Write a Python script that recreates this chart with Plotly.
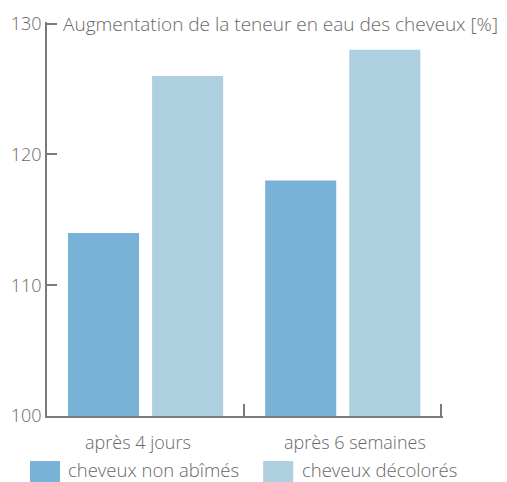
import plotly.graph_objects as go

categories = ["après 4 jours", "après 6 semaines"]
series_names = ["cheveux non abîmés", "cheveux décolorés"]
values_non_abimes = [114, 118]
values_decolores = [126, 128]
y_ticks = [100, 110, 120, 130]
title_text = "Augmentation de la teneur en eau des cheveux [%]"

colors = ["#78b2d6", "#aecfdf"]
text_color = "#686868"
axis_color = "#7a7a7a"
font_family = "Open Sans, Noto Sans, sans-serif"

# page body has an 8px margin; work in window pixels and shift
OFF = 8
L, R, T, B = 47, 441, 24, 416          # where 100/130 and category edges fall
W, H = 507 - OFF, 482 - OFF
Y_MIN, Y_MAX = 100, 130
Y_EXT = 0.125                          # small headroom so the inside end tick is kept
X_EXT = 0.0085
ppu_y = (B - T) / (Y_MAX - Y_MIN)
ppu_x = (R - L) / 2.0
T_eff = T - Y_EXT * ppu_y
R_eff = R + X_EXT * ppu_x
PW, PH = R_eff - L, B - T_eff

fig = go.Figure()
fig.add_trace(go.Bar(x=categories, y=values_non_abimes, name=series_names[0],
                     marker=dict(color=colors[0], line=dict(width=0))))
fig.add_trace(go.Bar(x=categories, y=values_decolores, name=series_names[1],
                     marker=dict(color=colors[1], line=dict(width=0))))

fig.update_layout(
    width=W, height=H,
    margin=dict(l=L - OFF, r=W - (R_eff - OFF), t=T_eff - OFF, b=H - (B - OFF), autoexpand=False),
    paper_bgcolor="white", plot_bgcolor="white",
    barmode="group", bargap=0.147, bargroupgap=0.155,
    showlegend=False,
    font=dict(family=font_family, size=18, color=text_color, weight=300),
)
fig.update_yaxes(
    range=[Y_MIN, Y_MAX + Y_EXT], tickvals=y_ticks, ticks="inside", ticklen=10, tickwidth=1.5,
    tickcolor=axis_color, showline=True, linecolor=axis_color, linewidth=1.5,
    showgrid=False, zeroline=False,
    tickfont=dict(size=18, color=text_color, weight=300),
)
fig.update_xaxes(
    range=[-0.5, 1.5 + X_EXT],
    ticks="inside", tickson="boundaries", ticklen=12, tickwidth=1.5, tickcolor=axis_color,
    showline=True, linecolor=axis_color, linewidth=1.5, showgrid=False,
    showticklabels=False,
)

# category labels
label_shift = [-8, 12]
for cat, sh in zip(categories, label_shift):
    fig.add_annotation(x=cat, xref="x", y=0, yref="paper", yanchor="top", xanchor="center",
                       xshift=sh, yshift=-12, text=cat, showarrow=False,
                       font=dict(size=18, color=text_color, weight=300))

# title as annotation aligned with top tick
fig.add_annotation(x=0, xref="paper", y=Y_MAX, yref="y", xanchor="left", yanchor="middle",
                   xshift=14, text=title_text, showarrow=False,
                   font=dict(size=19, color=text_color, weight=300))

# custom legend (paper coordinates computed from window pixel layout)
def px_x(p):
    return (p - L) / PW

def px_y(p):
    return (B - p) / PH

legend_layout = [(30, 60, 67), (263, 293, 301)]
for i, (x0p, x1p, txp) in enumerate(legend_layout):
    fig.add_shape(type="rect", xref="paper", yref="paper",
                  x0=px_x(x0p), x1=px_x(x1p), y0=px_y(482), y1=px_y(461),
                  fillcolor=colors[i], line=dict(width=0))
    fig.add_annotation(x=px_x(txp), xref="paper", y=px_y(469), yref="paper",
                       xanchor="left", yanchor="middle", text=series_names[i], showarrow=False,
                       borderpad=0, font=dict(size=18.5, color=text_color, weight=300))

fig.write_html("out.html")
